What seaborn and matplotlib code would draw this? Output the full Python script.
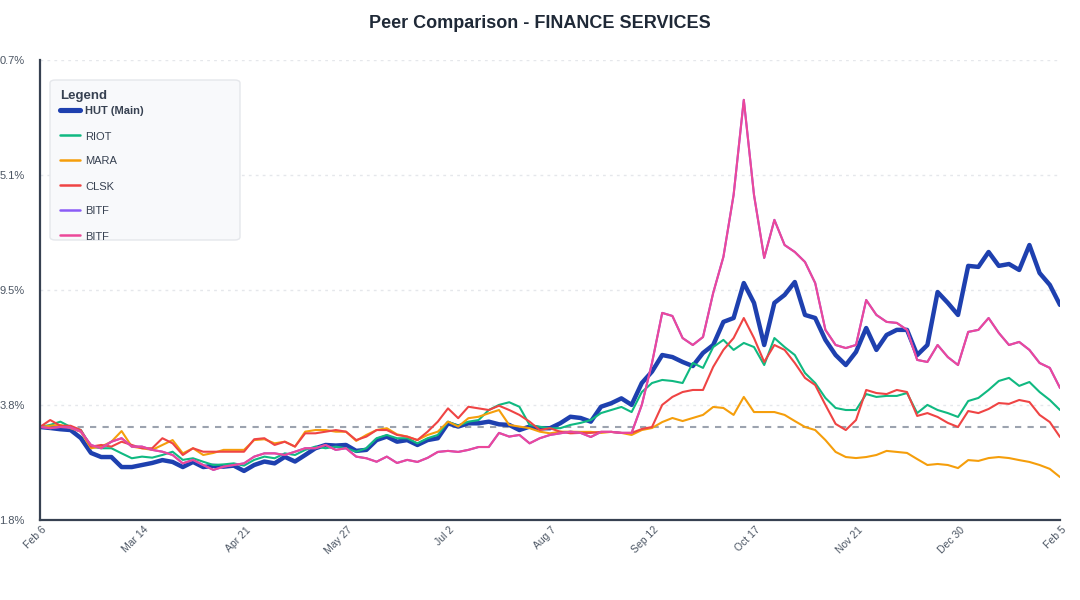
import matplotlib
matplotlib.use("Agg")
import numpy as np
import pandas as pd
import matplotlib.pyplot as plt
import matplotlib.transforms as mtransforms
from matplotlib.patches import FancyBboxPatch
from matplotlib.lines import Line2D
import seaborn as sns

# ==============================
# Data
# ==============================
date_labels = ["Feb 6", "Mar 14", "Apr 21", "May 27", "Jul 2", "Aug 7",
               "Sep 12", "Oct 17", "Nov 21", "Dec 30", "Feb 5"]
date_ticks = [0, 10, 20, 30, 40, 50, 60, 70, 80, 90, 100]

y_ticks = [-1.8, 3.825, 9.45, 15.075, 20.7]
# labels as they show in the reference (their first digit is cut off there)
y_tick_labels = ["1.8%", "3.8%", "9.5%", "5.1%", "0.7%"]
baseline = 2.75

hut = [2.75, 2.70, 2.64, 2.60, 2.21, 1.48, 1.28, 1.28, 0.79, 0.79, 0.89, 0.99, 1.13, 1.04, 0.79, 1.04, 0.79, 0.85,
       0.81, 0.86, 0.60, 0.89, 1.06, 0.97, 1.29, 1.06, 1.38, 1.71, 1.87, 1.84, 1.87, 1.58, 1.63, 2.11, 2.28, 2.03,
       2.11, 1.87, 2.11, 2.20, 2.93, 2.77, 2.93, 2.93, 3.01, 2.88, 2.85, 2.60, 2.77, 2.69, 2.69, 2.93, 3.25,
       3.19, 3.01, 3.74, 3.91, 4.15, 3.83, 4.90, 5.46, 6.27, 6.17, 5.93, 5.73, 6.37, 6.76, 7.89, 8.08, 9.79, 8.82, 6.76,
       8.82, 9.21, 9.84, 8.23, 8.08, 7.01, 6.27, 5.78, 6.42, 7.59, 6.52, 7.25, 7.50,
       7.50, 6.27, 6.76, 9.35, 8.82, 8.23, 10.63, 10.58, 11.31, 10.63, 10.72, 10.43, 11.65, 10.28, 9.70, 8.72]

riot = [2.75, 2.85, 3.01, 2.75, 2.60, 1.79, 1.71, 1.71, 1.46, 1.22, 1.30, 1.25, 1.38, 1.54, 1.14, 1.22, 1.05, 0.89,
        0.92, 0.97, 0.86, 1.14, 1.30, 1.22, 1.46, 1.38, 1.63, 1.79, 1.71, 1.79, 1.71, 1.54, 1.71, 2.20, 2.36, 2.20,
        2.20, 1.95, 2.20, 2.36, 3.01, 2.81, 3.01, 3.09, 3.58, 3.83, 3.96, 3.74, 2.85, 2.76, 2.69, 2.69, 2.85,
        2.95, 3.09, 3.43, 3.58, 3.73, 3.48, 4.46, 4.90, 5.05, 5.00, 4.90, 5.88, 5.64, 6.66, 7.01, 6.52, 6.86, 6.66, 5.78,
        7.10, 6.66, 6.27, 5.39, 4.90, 4.17, 3.68, 3.58, 3.58, 4.36, 4.22, 4.27, 4.27,
        4.41, 3.43, 3.83, 3.58, 3.43, 3.24, 4.02, 4.17, 4.56, 5.00, 5.15, 4.76, 4.95, 4.46, 4.07, 3.58]

mara = [2.75, 2.81, 2.85, 2.69, 2.52, 1.71, 1.79, 2.03, 2.55, 1.79, 1.71, 1.63, 1.87, 2.11, 1.46, 1.71, 1.38, 1.48,
        1.63, 1.63, 1.63, 2.11, 2.15, 1.95, 2.03, 1.79, 2.52, 2.60, 2.60, 2.52, 2.52, 2.07, 2.36, 2.60, 2.69, 2.39,
        2.28, 2.11, 2.36, 2.52, 3.01, 2.77, 3.18, 3.25, 3.42, 3.58, 2.85, 2.77, 2.69, 2.52, 2.44, 2.52, 2.52,
        2.51, 2.51, 2.46, 2.51, 2.46, 2.36, 2.60, 2.70, 2.99, 3.19, 3.04, 3.19, 3.34, 3.73, 3.68, 3.34, 4.22, 3.48, 3.48,
        3.48, 3.34, 3.04, 2.75, 2.60, 2.11, 1.53, 1.28, 1.23, 1.28, 1.38, 1.58, 1.53,
        1.48, 1.18, 0.89, 0.94, 0.89, 0.74, 1.13, 1.09, 1.23, 1.28, 1.23, 1.13, 1.04, 0.89, 0.70, 0.30]

clsk = [2.75, 3.09, 2.81, 2.81, 2.60, 1.79, 1.87, 1.79, 2.03, 1.87, 1.71, 1.71, 2.20, 1.95, 1.38, 1.71, 1.54, 1.54,
        1.54, 1.54, 1.54, 2.15, 2.20, 1.87, 2.03, 1.79, 2.44, 2.44, 2.52, 2.60, 2.52, 2.11, 2.28, 2.60, 2.60, 2.36,
        2.28, 2.11, 2.52, 3.01, 3.66, 3.18, 3.74, 3.66, 3.58, 3.79, 3.58, 3.34, 3.01, 2.60, 2.69, 2.52, 2.44,
        2.46, 2.46, 2.51, 2.51, 2.46, 2.46, 2.65, 2.75, 3.83, 4.22, 4.46, 4.56, 4.56, 5.69, 6.52, 7.10, 8.08, 7.10, 5.93,
        6.76, 6.52, 5.88, 5.15, 4.80, 3.83, 2.90, 2.60, 3.09, 4.56, 4.41, 4.36, 4.56,
        4.46, 3.29, 3.43, 3.24, 2.95, 2.75, 3.53, 3.43, 3.63, 3.92, 3.88, 4.07, 3.97, 3.34, 2.99, 2.26]

bitf = [2.75, 2.69, 2.75, 2.72, 2.52, 1.87, 1.71, 2.03, 2.20, 1.79, 1.79, 1.63, 1.54, 1.38, 0.97, 1.14, 0.89, 0.65,
        0.81, 0.89, 0.97, 1.30, 1.46, 1.46, 1.38, 1.54, 1.71, 1.71, 1.87, 1.63, 1.71, 1.30, 1.22, 1.05, 1.30, 0.99,
        1.14, 1.04, 1.24, 1.53, 1.58, 1.53, 1.63, 1.77, 1.77, 2.46, 2.28, 2.36, 1.95, 2.20, 2.36, 2.44, 2.52,
        2.46, 2.26, 2.51, 2.51, 2.46, 2.46, 3.83, 5.88, 8.33, 8.18, 7.10, 6.76, 7.15, 9.31, 11.07, 14.10, 18.75, 14.10, 11.02,
        12.88, 11.65, 11.31, 10.82, 9.79, 7.50, 6.76, 6.61, 6.76, 8.96, 8.23, 7.89, 7.84,
        7.50, 6.03, 5.93, 6.76, 6.17, 5.78, 7.40, 7.50, 8.08, 7.35, 6.76, 6.91, 6.52, 5.88, 5.64, 4.66]

# the purple BITF entry sits exactly under the pink one
bitf_alt = list(bitf)

names = ["HUT (Main)", "RIOT", "MARA", "CLSK", "BITF", "BITF"]
colors = ["#1e40af", "#10b981", "#f59e0b", "#ef4444", "#8b5cf6", "#ec4899"]
widths = [3.2, 1.5, 1.5, 1.5, 1.5, 1.5]
values = [hut, riot, mara, clsk, bitf_alt, bitf]

W, H = 1080, 600

sns.set_style("white")
plt.rcParams["font.family"] = ["Liberation Sans", "DejaVu Sans"]

fig = plt.figure(figsize=(W / 100, H / 100), dpi=100)
ax = fig.add_axes([40 / W, 80 / H, 1020 / W, 460 / H])

days = np.arange(len(hut))
for name, vals, col, lw in zip(names, values, colors, widths):
    df = pd.DataFrame({"day": days, "value": vals})
    sns.lineplot(data=df, x="day", y="value", color=col, linewidth=lw,
                 ax=ax, legend=False, solid_joinstyle="round",
                 solid_capstyle="round")

ax.axhline(baseline, color="#9ca3af", linestyle=(0, (3, 3)), linewidth=1.5, zorder=1)

ax.set_xlim(0, 100)
ax.set_ylim(y_ticks[0], y_ticks[-1])
ax.set_yticks(y_ticks)
ax.set_yticklabels(y_tick_labels)
ax.set_xticks(date_ticks)
ax.set_xticklabels(date_labels, rotation=45, ha="right", va="center",
                   rotation_mode="anchor")
ax.set_xlabel("")
ax.set_ylabel("")

ax.tick_params(axis="y", length=0, pad=11, labelsize=8, labelcolor="#4b5563")
ax.tick_params(axis="x", length=0, pad=6, labelsize=7.5, labelcolor="#4b5563")
shift = mtransforms.ScaledTranslation(5 / 100, 0, fig.dpi_scale_trans)
for lab in ax.get_xticklabels():
    lab.set_transform(lab.get_transform() + shift)

ax.grid(axis="y", color="#e5e7eb", linestyle=(0, (2, 3)), linewidth=1)
ax.grid(axis="x", visible=False)
for side in ["top", "right"]:
    ax.spines[side].set_visible(False)
for side in ["left", "bottom"]:
    ax.spines[side].set_color("#374151")
    ax.spines[side].set_linewidth(1.6)

fig.text(0.5, 1 - 24 / H, "Peer Comparison - FINANCE SERVICES", ha="center",
         va="center", fontsize=13, fontweight="bold", color="#1f2937")

# ==============================
# Legend box (clipped like the original)
# ==============================
def fx(x):
    return x / W


def fy(y):
    return 1 - y / H


box = FancyBboxPatch((fx(50), fy(240)), fx(190), 160 / H,
                     boxstyle="round,pad=0,rounding_size=0.005",
                     transform=fig.transFigure, facecolor="#f8f9fb",
                     edgecolor="#e5e7eb", linewidth=1, zorder=5)
fig.patches.append(box)
fig.text(fx(60), fy(96), "Legend", ha="left", va="center", fontsize=9.5,
         fontweight="bold", color="#374151", zorder=6)
for k, (name, col, lw) in enumerate(zip(names, colors, widths)):
    yy = 110 + 25 * k
    ln = Line2D([fx(60), fx(80)], [fy(yy), fy(yy)], color=col,
                linewidth=lw + 0.5 if k == 0 else 1.8,
                transform=fig.transFigure, zorder=6)
    fig.lines.append(ln)
    t = fig.text(fx(85), fy(yy + 1.5), name, ha="left", va="center", fontsize=8,
                 fontweight="bold" if k == 0 else "normal", color="#374151",
                 zorder=6)
    t.set_clip_path(box)

fig.savefig("out.png", dpi=100)
